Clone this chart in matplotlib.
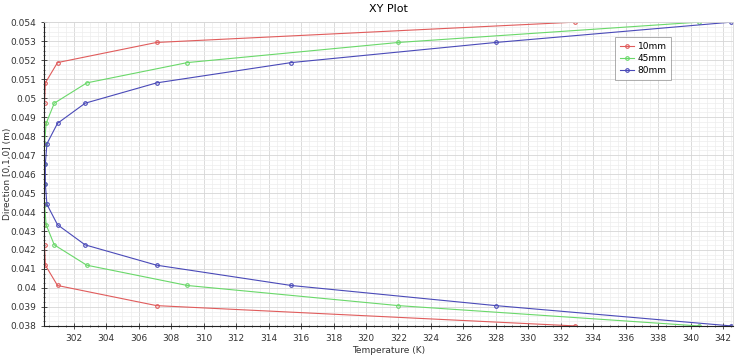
import numpy as np
import matplotlib
matplotlib.use("Agg")
import matplotlib.pyplot as plt
from matplotlib.ticker import MultipleLocator, FuncFormatter

# y positions of the probe points (m)
y_pos = [0.054, 0.05293, 0.05187, 0.0508, 0.04973, 0.04867, 0.0476, 0.04653,
         0.04547, 0.0444, 0.04333, 0.04227, 0.0412, 0.04013, 0.03907, 0.038]

# temperature (K) for each case
t_10mm = [332.9, 307.1, 301.0, 300.25, 300.2, 300.18, 300.17, 300.17,
          300.17, 300.17, 300.18, 300.2, 300.25, 301.0, 307.1, 332.9]
t_45mm = [340.5, 322.0, 309.0, 302.8, 300.8, 300.3, 300.2, 300.18,
          300.18, 300.2, 300.3, 300.8, 302.8, 309.0, 322.0, 340.5]
t_80mm = [342.5, 328.0, 315.4, 307.1, 302.7, 301.0, 300.35, 300.25,
          300.25, 300.35, 301.0, 302.7, 307.1, 315.4, 328.0, 342.5]

labels = ["10mm", "45mm", "80mm"]
colors = ["#e05c5c", "#6ad86a", "#4a4ab8"]

fig = plt.figure(figsize=(7.4, 3.57), dpi=100)
ax = fig.add_axes([0.0595, 0.087, 0.931, 0.851])

for t, lab, c in zip([t_10mm, t_45mm, t_80mm], labels, colors):
    ax.plot(t, y_pos, color=c, lw=0.8, marker="o", ms=2.6, mfc="none",
            mec=c, mew=0.8, label=lab)

ax.set_xlim(300.17, 342.6)
ax.set_ylim(0.038, 0.054)
ax.xaxis.set_major_locator(MultipleLocator(2))
ax.xaxis.set_minor_locator(MultipleLocator(0.5))
ax.yaxis.set_major_locator(MultipleLocator(0.001))
ax.yaxis.set_minor_locator(MultipleLocator(0.00025))
ax.yaxis.set_major_formatter(FuncFormatter(lambda v, p: "%g" % round(v, 4)))

ax.grid(which="major", color="#d6d6d6", lw=0.6)
ax.grid(which="minor", color="#ededed", lw=0.5)
ax.set_axisbelow(True)

ax.tick_params(which="both", direction="inout", labelsize=6.5, colors="#333333")
ax.tick_params(which="major", length=4, width=0.6)
ax.tick_params(which="minor", length=2, width=0.5)
for s in ["top", "right"]:
    ax.spines[s].set_color("#d8d8d8")
    ax.spines[s].set_linewidth(0.6)
for s in ["left", "bottom"]:
    ax.spines[s].set_color("#222222")
    ax.spines[s].set_linewidth(0.8)

ax.set_xlabel("Temperature (K)", fontsize=6.5, color="#333333")
ax.xaxis.set_label_coords(0.5, -0.065)
ax.set_ylabel("Direction [0,1,0] (m)", fontsize=6.5, color="#333333")
ax.yaxis.set_label_coords(-0.047, 0.5)
ax.set_title("XY Plot", fontsize=8, pad=7)

leg = ax.legend(loc="upper right", bbox_to_anchor=(0.917, 0.965), fontsize=6.5,
                frameon=True, fancybox=False, handlelength=1.6, handletextpad=0.4,
                borderpad=0.5, labelspacing=0.35)
leg.get_frame().set_edgecolor("#888888")
leg.get_frame().set_linewidth(0.6)

fig.savefig("out.png", dpi=100)
